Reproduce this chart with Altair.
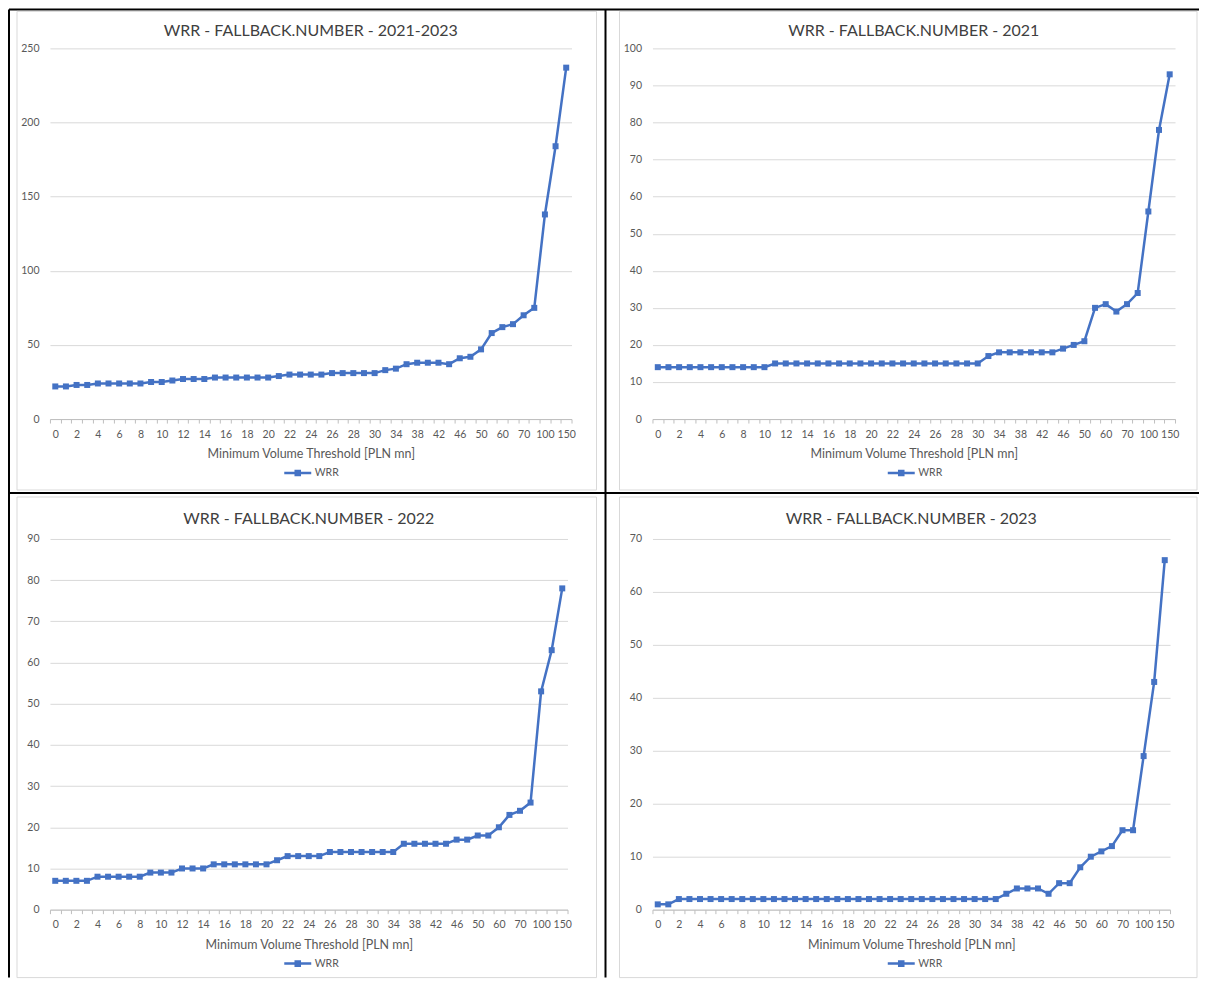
import json
import altair as alt
import pandas as pd

# ---------------- data ----------------
categories = ["0", "1", "2", "3", "4", "5", "6", "7", "8", "9",
              "10", "11", "12", "13", "14", "15", "16", "17", "18", "19",
              "20", "21", "22", "23", "24", "25", "26", "27", "28", "29",
              "30", "32", "34", "36", "38", "40", "42", "44", "46", "48",
              "50", "55", "60", "65", "70", "80", "100", "125", "150"]

shown_labels = ["0", "2", "4", "6", "8", "10", "12", "14", "16", "18", "20",
                "22", "24", "26", "28", "30", "34", "38", "42", "46", "50",
                "60", "70", "100", "150"]

wrr_2021_2023 = [22, 22, 23, 23, 24, 24, 24, 24, 24, 25,
                 25, 26, 27, 27, 27, 28, 28, 28, 28, 28,
                 28, 29, 30, 30, 30, 30, 31, 31, 31, 31,
                 31, 33, 34, 37, 38, 38, 38, 37, 41, 42,
                 47, 58, 62, 64, 70, 75, 138, 184, 237]

wrr_2021 = [14, 14, 14, 14, 14, 14, 14, 14, 14, 14,
            14, 15, 15, 15, 15, 15, 15, 15, 15, 15,
            15, 15, 15, 15, 15, 15, 15, 15, 15, 15,
            15, 17, 18, 18, 18, 18, 18, 18, 19, 20,
            21, 30, 31, 29, 31, 34, 56, 78, 93]

wrr_2022 = [7, 7, 7, 7, 8, 8, 8, 8, 8, 9,
            9, 9, 10, 10, 10, 11, 11, 11, 11, 11,
            11, 12, 13, 13, 13, 13, 14, 14, 14, 14,
            14, 14, 14, 16, 16, 16, 16, 16, 17, 17,
            18, 18, 20, 23, 24, 26, 53, 63, 78]

wrr_2023 = [1, 1, 2, 2, 2, 2, 2, 2, 2, 2,
            2, 2, 2, 2, 2, 2, 2, 2, 2, 2,
            2, 2, 2, 2, 2, 2, 2, 2, 2, 2,
            2, 2, 2, 3, 4, 4, 4, 3, 5, 5,
            8, 10, 11, 12, 15, 15, 29, 43, 66]

ticks_all = [0, 50, 100, 150, 200, 250]
ticks_2021 = [0, 10, 20, 30, 40, 50, 60, 70, 80, 90, 100]
ticks_2022 = [0, 10, 20, 30, 40, 50, 60, 70, 80, 90]
ticks_2023 = [0, 10, 20, 30, 40, 50, 60, 70]

titles = ["WRR - FALLBACK.NUMBER - 2021-2023", "WRR - FALLBACK.NUMBER - 2021",
          "WRR - FALLBACK.NUMBER - 2022", "WRR - FALLBACK.NUMBER - 2023"]
x_title = "Minimum Volume Threshold [PLN mn]"
series_name = "WRR"

# ---------------- style ----------------
FONT = "Lato"
BLUE = "#4472C4"
GRID = "#d9d9d9"
TXT = "#595959"
PLOT_H = 371

one = pd.DataFrame({"k": [0]})
label_expr = "indexof(" + json.dumps(shown_labels) + ", datum.value) >= 0 ? datum.label : ''"


def vrule(x, y1, y2, color="#000000", w=2):
    return alt.Chart(one).mark_rule(color=color, strokeWidth=w).encode(
        x=alt.value(x), y=alt.value(y1), y2=alt.value(y2))


def hrule(y, x1, x2, color="#000000", w=2):
    return alt.Chart(one).mark_rule(color=color, strokeWidth=w).encode(
        y=alt.value(y), x=alt.value(x1), x2=alt.value(x2))


def frame(x1, x2, y1, y2):
    return alt.Chart(one).mark_rect(fill="#ffffff", fillOpacity=0, stroke="#d9d9d9",
                                    strokeWidth=1).encode(
        x=alt.value(x1), x2=alt.value(x2), y=alt.value(y1), y2=alt.value(y2))


def panel(values, title, ticks, width, legend_x, title_offset, box, extra=()):
    df = pd.DataFrame({"threshold": categories, "wrr": values,
                       "series": [series_name] * len(categories)})
    base = alt.Chart(df).encode(
        x=alt.X("threshold:N", sort=categories, bandPosition=0.5,
                scale=alt.Scale(type="band", paddingInner=0, paddingOuter=0),
                axis=alt.Axis(title=x_title, labelAngle=0, labelExpr=label_expr,
                              labelOverlap=False, tickBand="extent", ticks=True,
                              tickSize=4, tickColor="#bfbfbf", domainColor="#bfbfbf",
                              grid=False, labelPadding=6, titlePadding=8,
                              labelFont=FONT, labelFontSize=10.5, labelColor=TXT,
                              titleFont=FONT, titleFontSize=12.5, titleColor=TXT,
                              titleFontWeight="normal")),
        y=alt.Y("wrr:Q", scale=alt.Scale(domain=[ticks[0], ticks[-1]], nice=False),
                axis=alt.Axis(title=None, values=ticks, domain=False, ticks=False,
                              tickSize=0, labelPadding=11, grid=True, gridColor=GRID,
                              labelFont=FONT, labelFontSize=10.5, labelColor=TXT)),
    )
    line = base.mark_line(color=BLUE, strokeWidth=2.5)
    pts = base.mark_square(size=36, filled=True, opacity=1).encode(
        color=alt.Color("series:N", scale=alt.Scale(range=[BLUE]),
                        legend=alt.Legend(
                            title=None, orient="none", legendX=legend_x, legendY=410,
                            symbolType="M-1,0L1,0M-0.15,-0.15L0.15,-0.15L0.15,0.15L-0.15,0.15Z",
                            symbolSize=729, symbolStrokeColor=BLUE, symbolStrokeWidth=2.5,
                            symbolFillColor=BLUE, labelFont=FONT, labelFontSize=10.5,
                            labelColor=TXT, labelOffset=2, padding=0)))
    return alt.layer(*extra, frame(*box), line, pts).properties(
        width=width, height=PLOT_H,
        title=alt.Title(title, frame="group", anchor="middle", offset=title_offset,
                        font=FONT, fontSize=16, fontWeight="normal", color="#404040"))


borders = (
    hrule(-39, -41, 1150),
    vrule(-41, -39, 930),
    vrule(556, -39, 930),
    hrule(445, -41, 1150),
)

p1 = panel(wrr_2021_2023, titles[0], ticks_all, 522, 233, -31, (-33, 547, -37, 442), borders)
p2 = panel(wrr_2021, titles[1], ticks_2021, 523, 234, -28.5, (-33, 545, -37, 442))
p3 = panel(wrr_2022, titles[2], ticks_2022, 518, 233, -30.5, (-33, 547, -42, 439))
p4 = panel(wrr_2023, titles[3], ticks_2023, 518, 234, -30.5, (-33, 545, -42, 439))

chart = alt.concat(p1, p2, p3, p4, columns=2, spacing={"row": 120, "column": 81},
                   bounds="flush").resolve_scale(color="independent").properties(
    padding=0).configure_view(strokeWidth=0)

chart.save("out.html", embed_options={"renderer": "svg", "actions": False})
